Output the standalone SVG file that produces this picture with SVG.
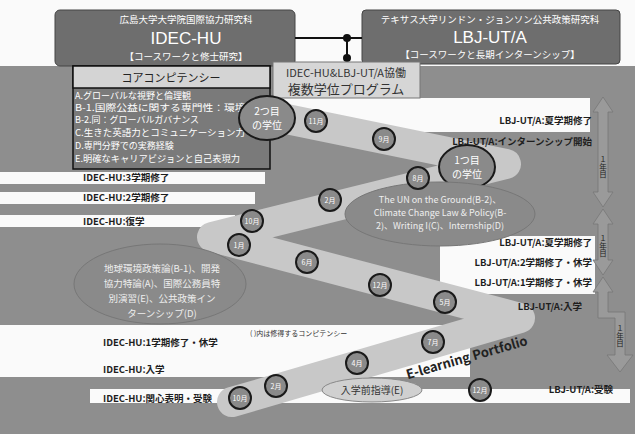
<svg xmlns="http://www.w3.org/2000/svg" width="635" height="434" viewBox="0 0 635 434">
<style>
text{font-family:"Noto Sans CJK JP","Noto Sans",sans-serif}
.lab{font-size:9.5px;fill:#1e1e1e;font-weight:bold}
.wt{fill:#fff}
.big{font-family:"Liberation Sans",Arial,sans-serif;font-size:17px;fill:#fff;text-anchor:middle}
.mon{fill:#8a8a8a;stroke:#1a1a1a;stroke-width:2}
.mt{font-size:7px;fill:#fff;text-anchor:middle}
.cc{font-size:9px;fill:#fff}
.arr{fill:#9a9a9a;stroke:#777;stroke-width:0.8}
.at{font-size:7.5px;fill:#222;writing-mode:vertical-rl;text-orientation:upright;text-anchor:middle}
</style>
<rect width="635" height="434" fill="#8e8e8e"/>
<g id="bg-bands" fill="#fafafa">
<rect x="0" y="0" width="635" height="66"/>
<rect x="280" y="98" width="310" height="34"/>
<rect x="0" y="172" width="265" height="12"/>
<rect x="0" y="192" width="255" height="12"/>
<rect x="0" y="215" width="235" height="12"/>
<rect x="440" y="236" width="155" height="58"/>
<rect x="0" y="325" width="470" height="52"/>
<rect x="90" y="389" width="540" height="14"/>
</g>
<g id="band">
<path d="M232 402 L520 318 L212 237 L506 164 L262 114" fill="none" stroke="#c8c8c8" stroke-width="30" stroke-linejoin="round" stroke-linecap="round"/>
</g>
<g id="idec-box">
<rect x="55" y="10" width="240" height="56" rx="5" fill="#6e6e6e" stroke="#444"/>
<text x="186" y="23" text-anchor="middle" font-size="9.5" class="wt">広島大学大学院国際協力研究科</text>
<text x="186" y="44" class="big">IDEC-HU</text>
<text x="186" y="60" text-anchor="middle" font-size="9.5" class="wt">【コースワークと修士研究】</text>
</g>
<g id="lbj-box">
<rect x="362" y="10" width="258" height="54" rx="4" fill="#6e6e6e" stroke="#444"/>
<text x="490" y="23" text-anchor="middle" font-size="9.5" class="wt">テキサス大学リンドン・ジョンソン公共政策研究科</text>
<text x="490" y="43" class="big">LBJ-UT/A</text>
<text x="490" y="58" text-anchor="middle" font-size="9.5" class="wt">【コースワークと長期インターンシップ】</text>
</g>
<g id="connectors" stroke="#111" stroke-width="2" fill="#111">
<line x1="295" y1="38" x2="362" y2="38"/>
<line x1="347" y1="38" x2="347" y2="58"/>
<circle cx="347" cy="38" r="4" stroke="none"/>
<circle cx="347" cy="58" r="4" stroke="none"/>
</g>
<g id="program-box">
<rect x="273" y="62" width="147" height="36" fill="#d6d6d6" stroke="#777"/>
<text x="346" y="77" text-anchor="middle" font-size="11" fill="#333">IDEC-HU&amp;LBJ-UT/A協働</text>
<text x="346" y="94" text-anchor="middle" font-size="13" fill="#333">複数学位プログラム</text>
</g>
<g id="core">
<rect x="73" y="66" width="197" height="103" fill="#7a7a7a" stroke="#111" stroke-width="1.5"/>
<rect x="73" y="66" width="197" height="22" fill="#d4d4d4" stroke="#111" stroke-width="1.5"/>
<text x="171" y="82" text-anchor="middle" font-size="11" fill="#222">コアコンピテンシー</text>
<text x="75" y="99" class="cc">A.グローバルな視野と倫理観</text>
<text x="75" y="111" class="cc" textLength="192" lengthAdjust="spacingAndGlyphs">B-1.国際公益に関する専門性：環境政策</text>
<text x="75" y="123" class="cc">B-2.同：グローバルガバナンス</text>
<text x="75" y="136" class="cc" textLength="170" lengthAdjust="spacingAndGlyphs">C.生きた英語力とコミュニケーション力</text>
<text x="75" y="149" class="cc">D.専門分野での実務経験</text>
<text x="75" y="162" class="cc" textLength="165" lengthAdjust="spacingAndGlyphs">E.明確なキャリアビジョンと自己表現力</text>
</g>
<g id="degree2">
<ellipse cx="267" cy="118" rx="28" ry="22" fill="#8a8a8a" stroke="#1a1a1a" stroke-width="2"/>
<text x="267" y="115" text-anchor="middle" font-size="10" class="wt">2つ目</text>
<text x="267" y="129" text-anchor="middle" font-size="10" class="wt">の学位</text>
</g>
<g id="degree1">
<ellipse cx="467" cy="167" rx="28" ry="22" fill="#8a8a8a" stroke="#1a1a1a" stroke-width="2"/>
<text x="467" y="164" text-anchor="middle" font-size="10" class="wt">1つ目</text>
<text x="467" y="178" text-anchor="middle" font-size="10" class="wt">の学位</text>
</g>
<g id="course-lbj">
<ellipse cx="440" cy="214" rx="95" ry="32" fill="#8a8a8a" stroke="#777"/>
<text x="440" y="203" text-anchor="middle" font-size="9" fill="#eee">The UN on the Ground(B-2)、</text>
<text x="440" y="216" text-anchor="middle" font-size="9" fill="#eee">Climate Change Law &amp; Policy(B-</text>
<text x="440" y="229" text-anchor="middle" font-size="9" fill="#eee">2)、Writing I(C)、Internship(D)</text>
</g>
<g id="course-idec">
<ellipse cx="160" cy="284" rx="86" ry="40" fill="#8a8a8a" stroke="#777"/>
<text x="162" y="272" text-anchor="middle" font-size="9.5" fill="#eee">地球環境政策論(B-1)、開発</text>
<text x="162" y="287" text-anchor="middle" font-size="9.5" fill="#eee">協力特論(A)、国際公務員特</text>
<text x="162" y="302" text-anchor="middle" font-size="9.5" fill="#eee">別演習(E)、公共政策イン</text>
<text x="162" y="317" text-anchor="middle" font-size="9.5" fill="#eee">ターンシップ(D)</text>
</g>
<text x="250" y="336" font-size="7" fill="#333">( )内は修得するコンピテンシー</text>
<g id="prep">
<ellipse cx="372" cy="390" rx="50" ry="12" fill="#d0d0d0" stroke="#888"/>
<text x="372" y="394" text-anchor="middle" font-size="10" fill="#333">入学前指導(E)</text>
</g>
<g id="months">
<circle cx="316" cy="121" r="11" class="mon"/><text x="316" y="124" class="mt">11月</text>
<circle cx="384" cy="139" r="11" class="mon"/><text x="384" y="142" class="mt">9月</text>
<circle cx="418" cy="178" r="11" class="mon"/><text x="418" y="181" class="mt">8月</text>
<circle cx="330" cy="200" r="11" class="mon"/><text x="330" y="203" class="mt">2月</text>
<circle cx="252" cy="221" r="11" class="mon"/><text x="252" y="224" class="mt">10月</text>
<circle cx="239" cy="245" r="11" class="mon"/><text x="239" y="248" class="mt">1月</text>
<circle cx="307" cy="262" r="11" class="mon"/><text x="307" y="265" class="mt">6月</text>
<circle cx="380" cy="285" r="11" class="mon"/><text x="380" y="288" class="mt">12月</text>
<circle cx="445" cy="302" r="11" class="mon"/><text x="445" y="305" class="mt">5月</text>
<circle cx="433" cy="342" r="11" class="mon"/><text x="433" y="345" class="mt">7月</text>
<circle cx="357" cy="363" r="11" class="mon"/><text x="357" y="366" class="mt">4月</text>
<circle cx="276" cy="386" r="11" class="mon"/><text x="276" y="389" class="mt">2月</text>
<circle cx="240" cy="398" r="11" class="mon"/><text x="240" y="401" class="mt">10月</text>
<circle cx="480" cy="390" r="11" class="mon"/><text x="480" y="393" class="mt">12月</text>
</g>
<text x="468" y="362" transform="rotate(-16 468 362)" text-anchor="middle" font-size="13" font-weight="bold" fill="#222">E-learning Portfolio</text>
<g id="left-labels" class="lab">
<text x="83" y="181">IDEC-HU:3学期修了</text>
<text x="83" y="201">IDEC-HU:2学期修了</text>
<text x="83" y="225">IDEC-HU:復学</text>
<text x="103" y="346">IDEC-HU:1学期修了・休学</text>
<text x="103" y="373">IDEC-HU:入学</text>
<text x="103" y="402">IDEC-HU:関心表明・受験</text>
</g>
<g id="right-labels" class="lab" text-anchor="end">
<text x="592" y="124">LBJ-UT/A:夏学期修了</text>
<text x="592" y="145">LBJ-UT/A:インターンシップ開始</text>
<text x="592" y="246">LBJ-UT/A:夏学期修了</text>
<text x="592" y="266">LBJ-UT/A:2学期修了・休学</text>
<text x="592" y="286">LBJ-UT/A:1学期修了・休学</text>
<text x="582" y="310">LBJ-UT/A:入学</text>
<text x="613" y="393">LBJ-UT/A:受験</text>
</g>
<g id="arrow1">
<polygon class="arr" points="603,97 613,112 608,112 608,192 613,192 603,207 593,192 598,192 598,112 593,112"/>
<text class="at" x="603" y="167">１年目</text>
</g>
<g id="arrow2">
<polygon class="arr" points="603,209 613,224 608,224 608,260 613,260 603,275 593,260 598,260 598,224 593,224"/>
<text class="at" x="603" y="246">１年目</text>
</g>
<g id="arrow3">
<polygon class="arr" points="603,277 613,292 608,292 608,312 625,312 625,355 633,355 620,372 607,355 615,355 615,318 598,318 598,292 593,292"/>
<text class="at" x="620" y="336">１年目</text>
</g>
</svg>
